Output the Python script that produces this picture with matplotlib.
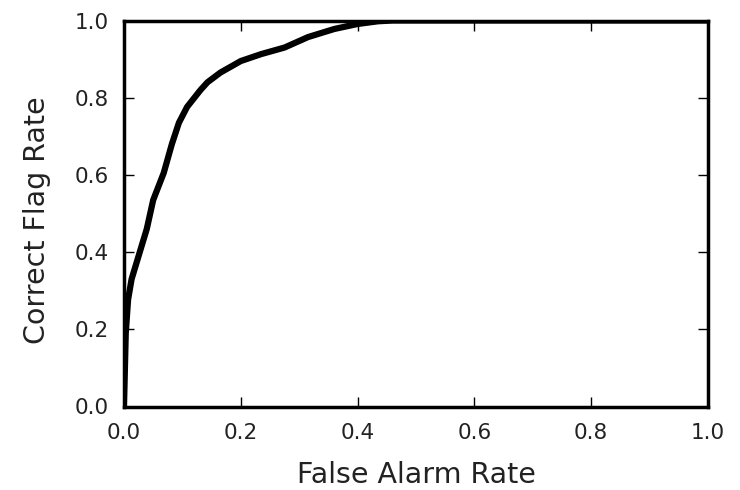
import matplotlib
matplotlib.use("Agg")
import matplotlib.pyplot as plt

false_alarm = [0.0, 0.003, 0.007, 0.013, 0.025, 0.039, 0.05, 0.068, 0.082, 0.094,
               0.108, 0.131, 0.143, 0.165, 0.2, 0.235, 0.275, 0.315, 0.36, 0.40,
               0.435, 0.46, 1.0]
correct_flag = [0.0, 0.19, 0.277, 0.33, 0.39, 0.46, 0.535, 0.605, 0.68, 0.735,
                0.776, 0.82, 0.84, 0.865, 0.895, 0.913, 0.93, 0.957, 0.978, 0.991,
                0.998, 1.0, 1.0]
ticks = [0.0, 0.2, 0.4, 0.6, 0.8, 1.0]
tick_labels = ['0.0', '0.2', '0.4', '0.6', '0.8', '1.0']

text_color = '#222222'
fig = plt.figure(figsize=(7.4, 4.9), dpi=100)
ax = fig.add_axes([124/740, 1-406.5/490, 584/740, 386/490])
ax.plot(false_alarm, correct_flag, color='black', linewidth=4.5, solid_capstyle='butt')
ax.set_xlim(0, 1)
ax.set_ylim(0, 1)
ax.set_xticks(ticks)
ax.set_yticks(ticks)
ax.set_xticklabels(tick_labels)
ax.set_yticklabels(tick_labels)
ax.tick_params(direction='in', top=True, right=True, length=7, width=1,
               labelsize=15.5, labelcolor=text_color)
ax.tick_params(axis='x', pad=12)
ax.tick_params(axis='y', pad=11)
for s in ax.spines.values():
    s.set_linewidth(2.5)
ax.set_xlabel('False Alarm Rate', fontsize=20.5, labelpad=13, color=text_color)
ax.set_ylabel('Correct Flag Rate', fontsize=20.5, labelpad=17, color=text_color)
ax.yaxis.label.set_y(0.483)
fig.savefig('out.png', dpi=100)
